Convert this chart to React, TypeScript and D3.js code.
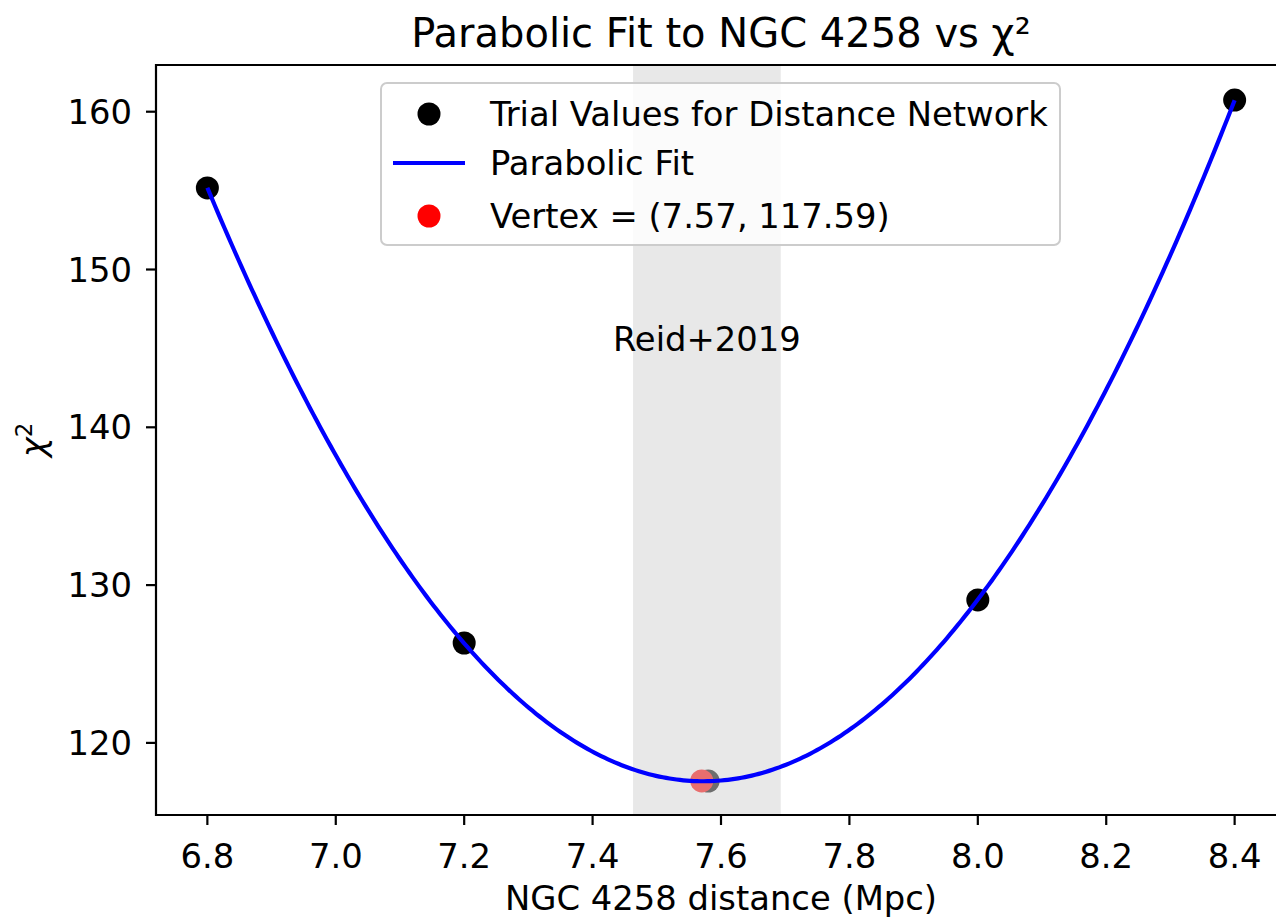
import React, { useMemo } from 'react';
import * as d3 from 'd3';

// trial distances (Mpc) and chi^2
const trialDistance = [6.8, 7.2, 7.58, 8.0, 8.4];
const trialChi2 = [155.17, 126.33, 117.58, 129.06, 160.74];

const vertex = { x: 7.57, y: 117.59 };
const reidBand = [7.463, 7.693];
const reidLabel = { text: 'Reid+2019', x: 7.578, y: 144.85 };

const xTicks = [6.8, 7.0, 7.2, 7.4, 7.6, 7.8, 8.0, 8.2, 8.4];
const yTicks = [120, 130, 140, 150, 160];

const W = 1276;
const H = 920;
const FONT = '"DejaVu Sans", sans-serif';
const FS = 33.8;

// least-squares quadratic fit  y = a x^2 + b x + c
function fitParabola(xs: number[], ys: number[]) {
  const n = xs.length;
  let s1 = 0, s2 = 0, s3 = 0, s4 = 0, t0 = 0, t1 = 0, t2 = 0;
  for (let i = 0; i < n; i++) {
    const x = xs[i], y = ys[i];
    s1 += x; s2 += x * x; s3 += x ** 3; s4 += x ** 4;
    t0 += y; t1 += x * y; t2 += x * x * y;
  }
  const M = [
    [s4, s3, s2, t2],
    [s3, s2, s1, t1],
    [s2, s1, n, t0],
  ];
  for (let c = 0; c < 3; c++) {
    for (let r = c + 1; r < 3; r++) {
      const f = M[r][c] / M[c][c];
      for (let k = c; k < 4; k++) M[r][k] -= f * M[c][k];
    }
  }
  const sol = [0, 0, 0];
  for (let r = 2; r >= 0; r--) {
    let s = M[r][3];
    for (let k = r + 1; k < 3; k++) s -= M[r][k] * sol[k];
    sol[r] = s / M[r][r];
  }
  return sol;
}

export default function App() {
  const left = 156, right = 1286, top = 65, bottom = 815;

  const x = d3.scaleLinear().domain([6.72, 8.48]).range([left, right]);
  const y = d3.scaleLinear().domain([115.43, 162.96]).range([bottom, top]);

  const curve = useMemo(() => {
    const [a, b, c] = fitParabola(trialDistance, trialChi2);
    const xs = d3.range(0, 301).map(i => 6.8 + (i * 1.6) / 300);
    return xs.map(v => [v, a * v * v + b * v + c] as [number, number]);
  }, []);

  const line = d3.line<[number, number]>()
    .x(d => x(d[0]))
    .y(d => y(d[1]));

  const pts = trialDistance.map((d, i) => ({ d, c: trialChi2[i] }));

  return (
    <svg width={W} height={H} style={{ display: 'block', position: 'absolute', left: 0, top: 0 }} fontFamily={FONT}>
      <rect width={W} height={H} fill="#fff" />

      {/* trial points */}
      {pts.map((p, i) => (
        <circle key={i} cx={x(p.d)} cy={y(p.c)} r={11.5} fill="#000" />
      ))}
      <circle cx={x(vertex.x)} cy={y(vertex.y)} r={11.5} fill="#ff0000" />

      {/* Reid+2019 band */}
      <rect x={x(reidBand[0])} y={top} width={x(reidBand[1]) - x(reidBand[0])} height={bottom - top}
        fill="#d3d3d3" fillOpacity={0.52} />

      {/* fit */}
      <path d={line(curve) || ''} fill="none" stroke="#0000ff" strokeWidth={4.2} />

      <text x={x(reidLabel.x)} y={y(reidLabel.y)} textAnchor="middle" fontSize={FS}>{reidLabel.text}</text>

      {/* frame */}
      <path d={`M${right},${top}H${left}V${bottom}H${right}`} fill="none" stroke="#000" strokeWidth={2.2} />

      {/* x axis */}
      {xTicks.map(t => (
        <g key={t} transform={`translate(${x(t)},${bottom})`}>
          <line y2={10} stroke="#000" strokeWidth={2.2} />
          <text y={53} textAnchor="middle" fontSize={FS}>{t.toFixed(1)}</text>
        </g>
      ))}
      <text x={(left + right) / 2} y={910} textAnchor="middle" fontSize={FS}>NGC 4258 distance (Mpc)</text>

      {/* y axis */}
      {yTicks.map(t => (
        <g key={t} transform={`translate(${left},${y(t)})`}>
          <line x2={-10} stroke="#000" strokeWidth={2.2} />
          <text x={-24} dy="0.36em" textAnchor="end" fontSize={FS}>{t}</text>
        </g>
      ))}
      <text transform={`translate(45,${(top + bottom) / 2}) rotate(-90)`} textAnchor="middle" fontSize={FS}>
        <tspan fontStyle="italic">χ</tspan>
        <tspan fontSize={23} dy={-13}>2</tspan>
      </text>

      {/* title */}
      <text x={(left + right) / 2} y={47} textAnchor="middle" fontSize={40}>Parabolic Fit to NGC 4258 vs χ²</text>

      {/* legend */}
      <g>
        <rect x={381} y={83} width={679} height={162} rx={6} fill="#fff" fillOpacity={0.8} stroke="#cccccc" strokeWidth={2} />
        <circle cx={429} cy={114} r={11.5} fill="#000" />
        <text x={490} y={126} fontSize={FS}>Trial Values for Distance Network</text>
        <line x1={393} x2={465} y1={163} y2={163} stroke="#0000ff" strokeWidth={4.2} />
        <text x={490} y={175} fontSize={FS}>Parabolic Fit</text>
        <circle cx={429} cy={216} r={11.5} fill="#ff0000" />
        <text x={490} y={228} fontSize={FS}>Vertex = (7.57, 117.59)</text>
      </g>
    </svg>
  );
}
